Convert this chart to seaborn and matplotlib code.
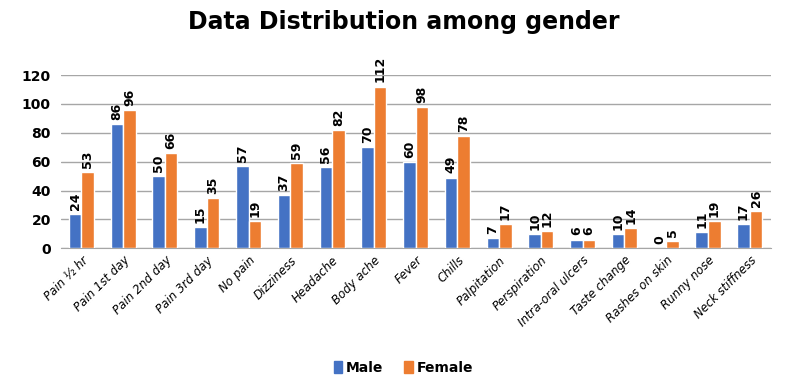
import pandas as pd
import seaborn as sns
import matplotlib.pyplot as plt

# data
symptoms = ["Pain ½ hr", "Pain 1st day", "Pain 2nd day", "Pain 3rd day", "No pain",
            "Dizziness", "Headache", "Body ache", "Fever", "Chills", "Palpitation",
            "Perspiration", "Intra-oral ulcers", "Taste change", "Rashes on skin",
            "Runny nose", "Neck stiffness"]
male = [24, 86, 50, 15, 57, 37, 56, 70, 60, 49, 7, 10, 6, 10, 0, 11, 17]
female = [53, 96, 66, 35, 19, 59, 82, 112, 98, 78, 17, 12, 6, 14, 5, 19, 26]

df = pd.DataFrame({"Symptom": symptoms * 2,
                   "Count": male + female,
                   "Gender": ["Male"] * len(male) + ["Female"] * len(female)})

sns.set_style("white")
plt.rcParams["font.family"] = ["DejaVu Sans"]
plt.rcParams["text.color"] = "black"
plt.rcParams["xtick.color"] = "black"
plt.rcParams["ytick.color"] = "black"

fig = plt.figure(figsize=(8.07, 3.85), dpi=100)
ax = fig.add_axes([0.075, 0.355, 0.88, 0.45])

sns.barplot(data=df, x="Symptom", y="Count", hue="Gender",
            palette={"Male": "#4472C4", "Female": "#ED7D31"}, saturation=1,
            width=0.6, ax=ax, legend=False, zorder=3)

for c in ax.containers:
    ax.bar_label(c, rotation=90, padding=3, fontsize=9, fontweight="bold")

ax.set_ylim(0, 120)
ax.set_yticks(range(0, 121, 20))
ax.yaxis.grid(True, color="#A6A6A6", linewidth=1)
ax.set_axisbelow(True)
for s in ["top", "right", "left"]:
    ax.spines[s].set_visible(False)
ax.spines["bottom"].set_color("#A6A6A6")
ax.set_xlim(-0.5, len(symptoms) - 0.5)
ax.set_xlabel("")
ax.set_ylabel("")
plt.setp(ax.get_yticklabels(), fontsize=10, fontweight="bold")
ax.tick_params(axis="x", length=0, pad=4)
ax.set_xticks(range(len(symptoms)))
ax.set_xticklabels(symptoms, rotation=45, ha="right", rotation_mode="anchor",
                   fontsize=8.5, fontstyle="italic")

fig.suptitle("Data Distribution among gender", fontsize=17, fontweight="bold", y=0.975)

handles = [plt.Rectangle((0, 0), 1, 1, color="#4472C4"),
           plt.Rectangle((0, 0), 1, 1, color="#ED7D31")]
fig.legend(handles, ["Male", "Female"], loc="center", bbox_to_anchor=(0.5, 0.045),
           ncol=2, frameon=False, handlelength=0.6, handleheight=0.9,
           columnspacing=1.5, handletextpad=0.3, prop={"weight": "bold", "size": 10})

fig.savefig("out.png", dpi=100)
